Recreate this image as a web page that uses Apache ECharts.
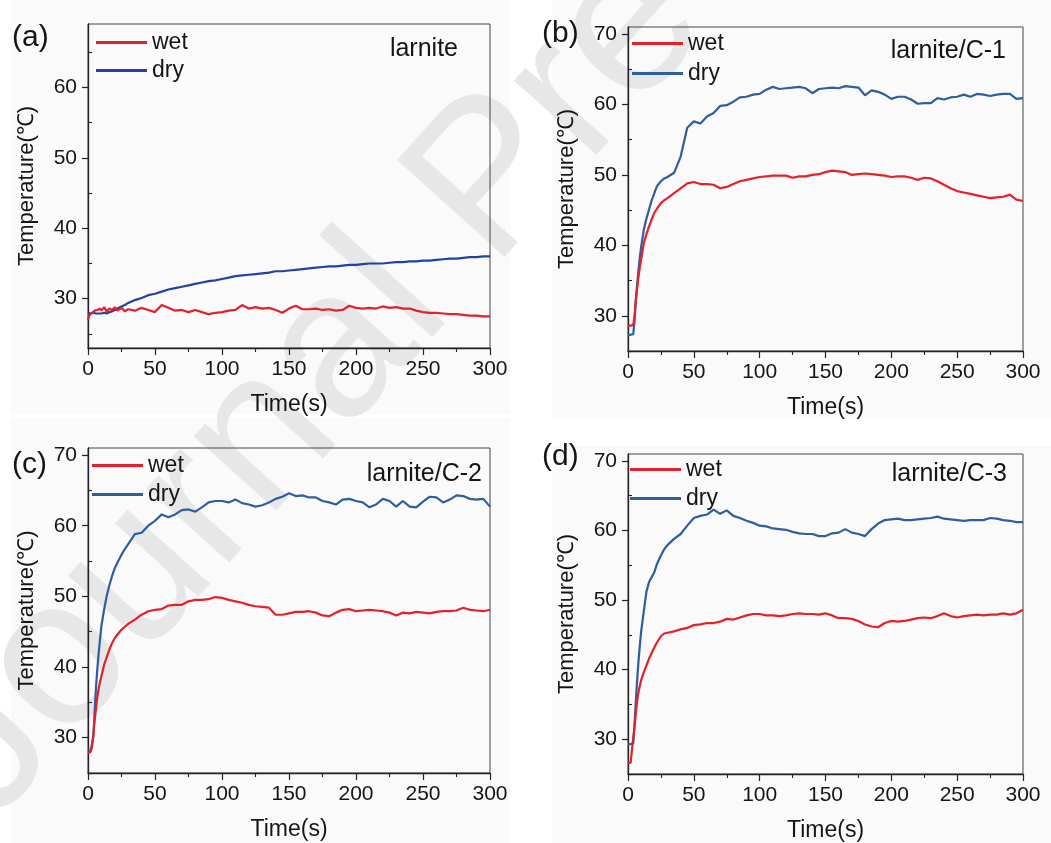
<!DOCTYPE html>
<html><head><meta charset="utf-8">
<script src="https://cdn.jsdelivr.net/npm/echarts@6/dist/echarts.min.js"></script>
<style>html,body{margin:0;padding:0;background:#fff}#c{width:1051px;height:843px}</style>
</head><body><div id="c"></div><script>
// sample times (s)
const T = [0,1,2,3,4,5,6,7,8,9,10,12,14,16,18,20,22,25,27.5,
  30,35,40,45,50,55,60,65,70,75,80,
  85,90,95,100,105,110,115,120,125,130,135,
  140,145,150,155,160,165,170,175,180,185,190,
  195,200,205,210,215,220,225,230,235,240,245,
  250,255,260,265,270,275,280,285,290,295,300];

const xTicks = [0,50,100,150,200,250,300];
const yTicksA = [30,40,50,60];
const yTicksBCD = [30,40,50,60,70];
const yMinorA = [25,35,45,55,65];
const yMinorBCD = [25,35,45,55,65];

// (a) larnite
const wetA = [27.0,27.6,27.8,28.0,28.1,28.3,28.2,28.4,28.2,28.6,28.3,28.8,28.2,28.6,28.4,28.8,28.3,28.7,28.2,
  28.5,28.3,28.7,28.4,28.1,29.1,28.7,28.3,28.4,28.1,28.4,
  28.1,27.8,28.0,28.1,28.3,28.4,29.1,28.6,28.8,28.6,28.7,
  28.4,28.0,28.6,29.0,28.5,28.5,28.6,28.4,28.5,28.3,28.4,
  29.0,28.7,28.6,28.7,28.6,28.9,28.7,28.8,28.6,28.6,28.3,
  28.1,28.0,28.0,27.9,27.8,27.8,27.7,27.6,27.6,27.5,27.5];
const dryA = [28.0,27.9,27.9,27.9,28.0,27.9,27.9,28.0,27.9,28.0,27.9,28.0,27.9,28.1,28.2,28.4,28.6,28.9,29.1,
  29.4,29.8,30.1,30.5,30.7,31.0,31.3,31.5,31.7,31.9,32.1,
  32.3,32.5,32.6,32.8,33.0,33.2,33.3,33.4,33.5,33.6,33.7,
  33.9,33.9,34.0,34.1,34.2,34.3,34.4,34.5,34.6,34.6,34.7,
  34.8,34.8,34.9,35.0,35.0,35.0,35.1,35.2,35.2,35.3,35.3,
  35.4,35.4,35.5,35.6,35.7,35.7,35.8,35.9,35.9,36.0,36.0];

// (b) larnite/C-1
const wetB = [28.6,28.6,28.6,28.6,28.7,30.0,32.3,34.0,35.6,36.9,38.0,40.3,41.6,42.7,43.7,44.6,45.2,46.0,46.4,
  46.7,47.4,48.1,48.8,49.0,48.7,48.7,48.6,48.1,48.3,48.7,
  49.1,49.3,49.5,49.7,49.8,49.9,49.9,49.9,49.6,49.8,49.8,
  50.0,50.1,50.4,50.6,50.5,50.4,50.0,50.1,50.2,50.1,50.0,
  49.9,49.7,49.8,49.8,49.6,49.3,49.6,49.5,49.1,48.6,48.1,
  47.7,47.5,47.3,47.1,46.9,46.7,46.8,46.9,47.2,46.5,46.3];
const dryB = [27.3,27.3,27.3,27.3,27.4,29.4,32.3,34.6,36.5,38.3,39.8,42.2,43.8,45.1,46.4,47.4,48.4,49.1,49.5,
  49.7,50.3,52.6,56.7,57.6,57.3,58.3,58.8,59.8,59.9,60.4,
  61.0,61.1,61.4,61.5,62.1,62.5,62.2,62.3,62.4,62.5,62.3,
  61.6,62.2,62.3,62.4,62.3,62.6,62.5,62.4,61.3,62.0,61.8,
  61.4,60.8,61.1,61.1,60.7,60.1,60.2,60.2,60.9,60.7,61.0,
  61.1,61.4,61.1,61.5,61.4,61.2,61.4,61.5,61.5,60.8,60.9];

// (c) larnite/C-2
const wetC = [27.8,27.9,28.0,28.7,30.5,32.5,34.2,35.8,37.0,37.9,38.7,40.3,41.4,42.5,43.4,44.1,44.6,45.3,45.7,
  46.1,46.7,47.4,47.9,48.1,48.2,48.7,48.8,48.8,49.3,49.5,
  49.5,49.6,49.9,49.8,49.5,49.3,49.1,48.8,48.6,48.5,48.4,
  47.4,47.4,47.6,47.8,47.8,47.9,47.7,47.3,47.2,47.7,48.1,
  48.2,47.9,48.0,48.1,48.0,47.9,47.7,47.3,47.7,47.6,47.8,
  47.7,47.6,47.8,47.9,47.9,48.0,48.4,48.1,48.0,47.9,48.1];
const dryC = [28.2,28.2,28.2,28.2,30.1,33.9,37.2,39.8,42.0,44.0,45.8,48.1,50.1,51.6,52.9,54.0,54.8,55.9,56.7,
  57.4,58.8,59.0,60.0,60.7,61.6,61.2,61.6,62.2,62.3,62.0,
  62.6,63.3,63.5,63.5,63.3,63.7,63.2,63.0,62.7,62.9,63.3,
  63.8,64.1,64.6,64.2,64.3,64.0,64.0,63.5,63.3,63.0,63.7,
  63.8,63.5,63.3,62.6,63.0,63.8,63.5,62.7,63.5,62.7,62.6,
  63.4,64.1,64.0,63.3,63.7,64.3,64.2,63.8,63.7,63.8,62.7];

// (d) larnite/C-3
const wetD = [26.6,26.6,26.6,28.5,30.2,31.8,33.8,35.6,36.8,37.7,38.5,39.6,40.6,41.6,42.4,43.2,43.9,44.8,45.2,
  45.3,45.5,45.8,46.0,46.4,46.5,46.7,46.7,46.9,47.3,47.2,
  47.5,47.8,48.0,48.0,47.8,47.8,47.7,47.8,48.0,48.1,48.0,
  48.0,47.9,48.1,47.8,47.4,47.4,47.3,47.0,46.5,46.2,46.1,
  46.7,47.0,46.9,47.0,47.2,47.4,47.5,47.4,47.7,48.1,47.7,
  47.5,47.7,47.8,47.9,47.8,47.9,47.9,48.1,47.9,48.1,48.6];
const dryD = [29.3,29.3,29.3,29.3,29.4,32.3,35.6,38.6,41.3,43.5,45.5,48.4,51.2,52.6,53.3,54.0,55.2,56.4,57.3,
  57.9,58.8,59.5,60.7,61.8,62.1,62.3,63.0,62.4,62.9,62.1,
  61.8,61.4,61.1,60.7,60.6,60.3,60.2,60.1,59.8,59.6,59.5,
  59.5,59.2,59.2,59.6,59.7,60.2,59.7,59.5,59.2,60.2,61.0,
  61.5,61.6,61.7,61.5,61.5,61.6,61.7,61.8,62.0,61.7,61.6,
  61.5,61.4,61.5,61.5,61.5,61.8,61.7,61.5,61.4,61.2,61.2];

const RED = '#e4202a';
const FONT = '"Liberation Sans", Arial, sans-serif';
const TXT = '#151515';

const panels = [
  {key:'a', label:'(a)', note:'larnite', wet:wetA, dry:dryA, dryColor:'#2241a3', yMin:23, yMax:69, yTicks:yTicksA, yMinor:yMinorA,
   grid:{left:88, top:24, width:402, height:324}, labelPos:[12,36], notePos:[458,48], legPos:[96,31], legGap:5,
   bg:[11,0,499,414]},
  {key:'b', label:'(b)', note:'larnite/C-1', wet:wetB, dry:dryB, dryColor:'#2f5e9e', yMin:25, yMax:71, yTicks:yTicksBCD, yMinor:yMinorBCD,
   grid:{left:628, top:27, width:395, height:324}, labelPos:[542,32], notePos:[1006,50], legPos:[632,32], legGap:7,
   bg:[552,0,499,417]},
  {key:'c', label:'(c)', note:'larnite/C-2', wet:wetC, dry:dryC, dryColor:'#2f5e9e', yMin:25, yMax:71, yTicks:yTicksBCD, yMinor:yMinorBCD,
   grid:{left:88, top:448, width:402, height:325}, labelPos:[12,463], notePos:[482,473], legPos:[92,454], legGap:6,
   bg:[11,418,499,425]},
  {key:'d', label:'(d)', note:'larnite/C-3', wet:wetD, dry:dryD, dryColor:'#2f5e9e', yMin:25, yMax:71, yTicks:yTicksBCD, yMinor:yMinorBCD,
   grid:{left:628, top:454, width:395, height:324}, labelPos:[542,455], notePos:[1007,473], legPos:[630,458], legGap:6,
   bg:[552,445,499,398]}
];

const pairs = vals => T.map((t,i)=>[t, vals[i]]);

const grids=[], xAxes=[], yAxes=[], series=[], legends=[], graphics=[];
panels.forEach((p,i)=>{
  graphics.push({type:'rect', z:-20, shape:{x:p.bg[0], y:p.bg[1], width:p.bg[2], height:p.bg[3]}, style:{fill:'#fafafa'}, silent:true});
});
// faint "Journal Pre-proof" watermark
graphics.push({type:'text', z:-10, x:-50, y:786, rotation:48*Math.PI/180, silent:true,
  style:{text:'Journal Pre-proof', x:0, y:0, font:'210px '+FONT, fill:'#e7e7e7', textAlign:'left', textVerticalAlign:'middle'}});

panels.forEach((p,i)=>{
  grids.push(Object.assign({show:true, borderColor:'#444', borderWidth:1, backgroundColor:'transparent'}, p.grid));
  xAxes.push({type:'value', gridIndex:i, min:0, max:300, interval:50,
    name:'Time(s)', nameLocation:'middle', nameGap:45,
    nameTextStyle:{fontFamily:FONT, fontSize:23, color:TXT},
    axisLine:{show:true, onZero:false, lineStyle:{color:'#222', width:1.3}},
    axisTick:{show:true, inside:false, length:7, lineStyle:{color:'#222', width:1.2}},
    minorTick:{show:true, splitNumber:2, length:4, lineStyle:{color:'#222', width:1.1}},
    splitLine:{show:false},
    axisLabel:{fontFamily:FONT, fontSize:21, color:TXT, margin:11}
  });
  yAxes.push({type:'value', gridIndex:i, min:p.yMin, max:p.yMax,
    name:'Temperature(℃)', nameLocation:'middle', nameGap:50,
    nameTextStyle:{fontFamily:FONT, fontSize:22, color:TXT},
    axisLine:{show:true, onZero:false, lineStyle:{color:'#222', width:1.3}},
    axisTick:{show:true, inside:false, length:6, customValues:p.yTicks, lineStyle:{color:'#222', width:1.2}},
    axisLabel:{fontFamily:FONT, fontSize:21, color:TXT, margin:11, customValues:p.yTicks},
    splitLine:{show:false}
  });
  yAxes.push({type:'value', gridIndex:i, min:p.yMin, max:p.yMax,
    axisLine:{show:false},
    axisTick:{show:true, inside:false, length:4, customValues:p.yMinor, lineStyle:{color:'#222', width:1.1}},
    axisLabel:{show:false}, splitLine:{show:false}
  });
  series.push({name:'wet_'+p.key, type:'line', xAxisIndex:i, yAxisIndex:2*i, data:pairs(p.wet),
    symbol:'none', smooth:false, lineStyle:{color:RED, width:2.2}, itemStyle:{color:RED}, z:3});
  series.push({name:'dry_'+p.key, type:'line', xAxisIndex:i, yAxisIndex:2*i, data:pairs(p.dry),
    symbol:'none', smooth:false, lineStyle:{color:p.dryColor, width:2.2}, itemStyle:{color:p.dryColor}, z:2});
  legends.push({orient:'vertical', left:p.legPos[0], top:p.legPos[1], icon:'rect', itemWidth:51, itemHeight:3, itemGap:p.legGap,
    data:['wet_'+p.key,'dry_'+p.key], formatter:n=>n.split('_')[0], selectedMode:false,
    textStyle:{fontFamily:FONT, fontSize:23, color:TXT, lineHeight:22}, padding:0});
  graphics.push({type:'text', left:p.labelPos[0], top:p.labelPos[1]-13, style:{text:p.label, font:'30px '+FONT, fill:TXT}});
  graphics.push({type:'text', right:1051-p.notePos[0], top:p.notePos[1]-11.5, style:{text:p.note, font:'25px '+FONT, fill:TXT}});
});

const chart = echarts.init(document.getElementById('c'), null, {renderer:'canvas'});
chart.setOption({
  backgroundColor:'#ffffff',
  animation:false,
  grid:grids, xAxis:xAxes, yAxis:yAxes, series:series, legend:legends, graphic:graphics
});
</script></body></html>
